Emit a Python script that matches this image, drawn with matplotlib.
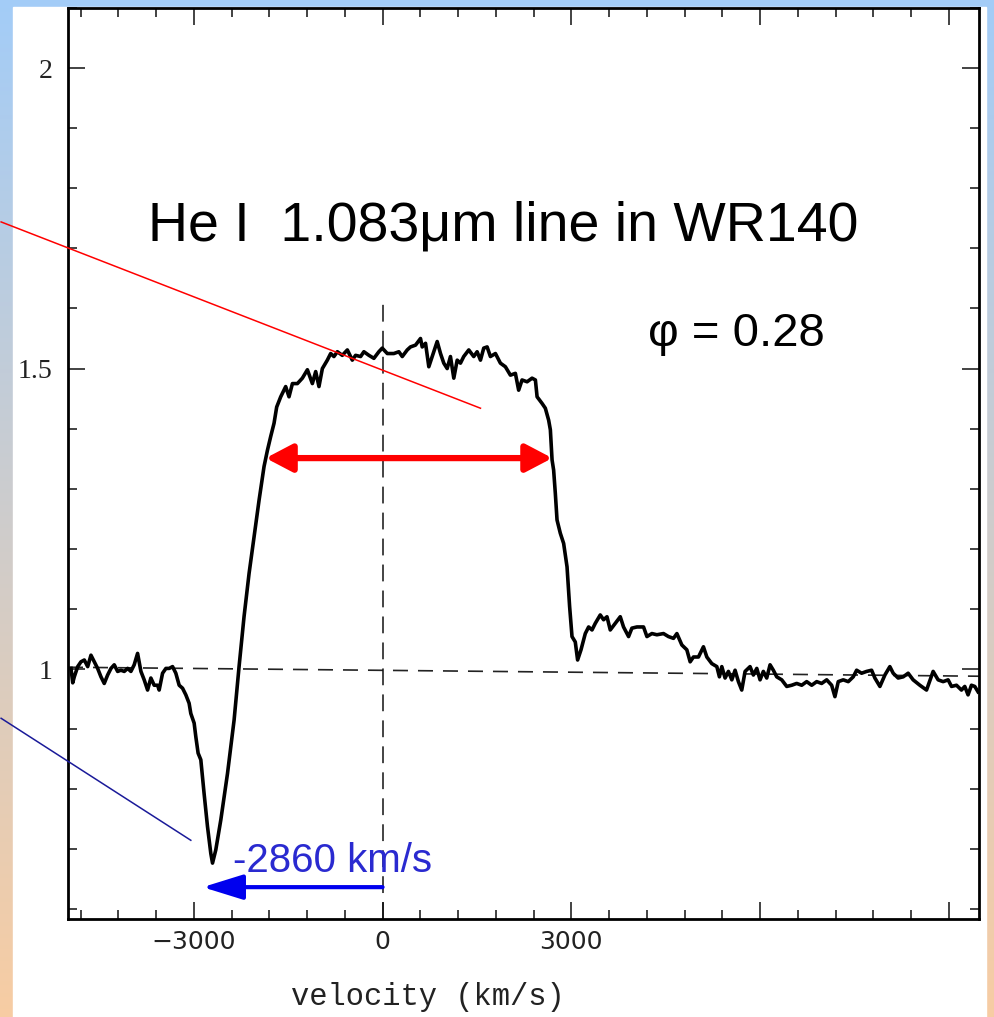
import numpy as np
import matplotlib.pyplot as plt
from matplotlib.ticker import MultipleLocator

# He I 1.083 um profile of WR140, velocity (km/s) vs normalised flux
velocity = [-4952, -4925, -4900, -4846, -4794, -4741, -4687, -4635, -4582, -4529,
            -4476, -4424, -4370, -4317, -4265, -4211, -4159, -4106, -4052, -4000,
            -3948, -3894, -3841, -3789, -3735, -3683, -3630, -3576, -3551, -3497,
            -3444, -3392, -3338, -3286, -3233, -3179, -3127, -3075, -3048, -2995,
            -2968, -2932, -2889, -2837, -2783, -2730, -2703, -2651, -2571, -2465,
            -2360, -2281, -2202, -2122, -2043, -1963, -1884, -1830, -1778, -1725,
            -1683, -1619, -1540, -1487, -1433, -1354, -1275, -1195, -1116, -1063,
            -1011, -957, -878, -825, -773, -719, -640, -560, -481, -429,
            -349, -297, -217, -138, -59, -5, 75, 179, 259, 313,
            392, 444, 524, 603, 630, 683, 735, 789, 868, 921,
            973, 1027, 1079, 1132, 1186, 1238, 1290, 1370, 1449, 1503,
            1556, 1608, 1662, 1714, 1794, 1873, 1952, 2032, 2111, 2163,
            2217, 2297, 2376, 2429, 2456, 2535, 2587, 2640, 2667, 2694,
            2719, 2746, 2773, 2825, 2878, 2932, 2973, 3011, 3063, 3100,
            3154, 3222, 3275, 3329, 3381, 3460, 3513, 3567, 3619, 3698,
            3778, 3830, 3910, 3963, 4043, 4148, 4202, 4281, 4360, 4465,
            4544, 4624, 4678, 4757, 4836, 4889, 4941, 5021, 5100, 5154,
            5233, 5313, 5354, 5392, 5444, 5497, 5551, 5603, 5656, 5709,
            5762, 5841, 5894, 5948, 6000, 6052, 6106, 6159, 6211, 6265,
            6344, 6424, 6503, 6582, 6662, 6741, 6821, 6900, 6979, 7059,
            7138, 7190, 7243, 7322, 7402, 7481, 7535, 7614, 7694, 7773,
            7825, 7905, 7984, 8063, 8116, 8195, 8275, 8354, 8433, 8540,
            8646, 8751, 8830, 8910, 8989, 9043, 9122, 9201, 9254, 9306,
            9360, 9413, 9465]
flux = [1.001, 0.977, 0.987, 1.004, 1.012, 1.015, 1.004, 1.023, 1.012, 1.001,
        0.987, 0.976, 0.990, 1.001, 1.007, 0.996, 0.998, 0.996, 1.001, 0.996,
        1.007, 1.026, 0.996, 0.982, 0.965, 0.985, 0.973, 0.973, 0.965, 0.993,
        1.001, 1.001, 1.004, 0.993, 0.973, 0.968, 0.957, 0.943, 0.926, 0.910,
        0.887, 0.860, 0.849, 0.793, 0.738, 0.693, 0.677, 0.699, 0.749, 0.826,
        0.915, 1.004, 1.087, 1.159, 1.220, 1.281, 1.337, 1.364, 1.387, 1.409,
        1.436, 1.453, 1.470, 1.453, 1.475, 1.475, 1.484, 1.498, 1.475, 1.495,
        1.470, 1.500, 1.514, 1.525, 1.520, 1.528, 1.522, 1.531, 1.514, 1.522,
        1.520, 1.528, 1.522, 1.517, 1.528, 1.534, 1.525, 1.525, 1.528, 1.520,
        1.531, 1.536, 1.539, 1.550, 1.536, 1.542, 1.503, 1.520, 1.545, 1.525,
        1.509, 1.500, 1.520, 1.484, 1.514, 1.509, 1.520, 1.531, 1.520, 1.528,
        1.514, 1.534, 1.536, 1.520, 1.525, 1.509, 1.503, 1.489, 1.492, 1.464,
        1.481, 1.478, 1.484, 1.481, 1.453, 1.442, 1.434, 1.414, 1.398, 1.348,
        1.331, 1.292, 1.248, 1.226, 1.209, 1.170, 1.104, 1.054, 1.045, 1.015,
        1.032, 1.059, 1.070, 1.065, 1.076, 1.090, 1.082, 1.087, 1.065, 1.076,
        1.087, 1.070, 1.054, 1.068, 1.070, 1.070, 1.054, 1.059, 1.057, 1.059,
        1.054, 1.051, 1.059, 1.040, 1.032, 1.012, 1.020, 1.020, 1.037, 1.020,
        1.009, 1.004, 0.987, 1.004, 0.985, 0.996, 0.982, 0.998, 0.979, 0.965,
        0.996, 1.004, 0.990, 1.001, 0.982, 0.996, 0.985, 1.007, 0.998, 0.987,
        0.982, 0.971, 0.973, 0.976, 0.973, 0.979, 0.973, 0.979, 0.976, 0.982,
        0.973, 0.954, 0.979, 0.982, 0.979, 0.987, 0.998, 0.993, 0.996, 0.998,
        0.985, 0.971, 0.990, 1.004, 0.993, 0.985, 0.987, 0.993, 0.982, 0.973,
        0.965, 0.996, 0.982, 0.979, 0.982, 0.971, 0.973, 0.965, 0.971, 0.957,
        0.973, 0.971, 0.962]

# guide lines
continuum_v = [-5000, 9480]
continuum_f = [1.003, 0.988]
zero_v = 0
zero_top = 1.617
absorption_v = -2860          # blue-shifted absorption edge
width_v = [-1857, 2698]       # full width of the emission plateau
width_f = 1.351
arrow_f = 0.637
red_line_v = [-6063, 1556]
red_line_f = [1.744, 1.434]
blue_line_v = [-6063, -3048]
blue_line_f = [0.918, 0.715]

xticks = [-3000, 0, 3000, 6000, 9000]
xticklabels = ['\u22123000', '0', '3000', '', '']
yticks = [1.0, 1.5, 2.0]
yticklabels = ['1', '1.5', '2']

W, H = 995, 1017
fig = plt.figure(figsize=(W / 100, H / 100), dpi=100)

# slide background: blue-to-peach gradient with a white sheet on top
bg = fig.add_axes([0, 0, 1, 1])
top = np.array([0.64, 0.80, 0.97])
bottom = np.array([0.97, 0.80, 0.64])
t = np.linspace(0, 1, 256)[:, None]
grad = (1 - t) * top + t * bottom
bg.imshow(grad[:, None, :], aspect='auto', extent=[0, 1, 0, 1])
bg.add_patch(plt.Rectangle((13 / W, 0), (986 - 13) / W, (H - 7) / H,
                           transform=bg.transAxes, color='white'))
bg.set_xlim(0, 1)
bg.set_ylim(0, 1)
bg.axis('off')

ax = fig.add_axes([68 / W, (H - 919) / H, (979 - 68) / W, (919 - 8) / H])
ax.set_xlim(-5000, 9480)
ax.set_ylim(0.584, 2.1)

ax.plot(velocity, flux, color='black', lw=2.6, zorder=3)

# reference lines
ax.plot(continuum_v, continuum_f, color='#222222', lw=1.2, dashes=(9, 6), zorder=2)
ax.plot([zero_v, zero_v], [0.584, zero_top], color='#111111', lw=1.1,
        dashes=(11, 6), zorder=2)

# width of the flat-topped emission
ax.annotate('', xy=(width_v[1], width_f), xytext=(width_v[0], width_f),
            arrowprops=dict(arrowstyle='<|-|>,head_length=0.8,head_width=0.42',
                            mutation_scale=20, color='#ff0000', lw=4.5,
                            shrinkA=0, shrinkB=0), zorder=4)

# absorption velocity
ax.annotate('', xy=(absorption_v, arrow_f), xytext=(zero_v, arrow_f),
            arrowprops=dict(arrowstyle='-|>,head_length=1.45,head_width=0.45',
                            mutation_scale=17, color='#0000ee', lw=3,
                            shrinkA=0, shrinkB=0), zorder=4)
ax.text(0.181, 0.0516, '-2860 km/s', transform=ax.transAxes, color='#2a2ad0',
        fontsize=29, family=['Liberation Sans', 'DejaVu Sans'], va='baseline')

# pointer lines running off the left edge
ax.plot(red_line_v, red_line_f, color='#ff0000', lw=1.1, clip_on=False, zorder=5)
ax.plot(blue_line_v, blue_line_f, color='#1a1a99', lw=1.1, clip_on=False, zorder=5)

ax.text(0.0878, 0.745, 'He I  1.083\u03bcm line in WR140', transform=ax.transAxes,
        fontsize=40, family=['Liberation Sans', 'DejaVu Sans'], va='baseline')
ax.text(0.637, 0.629, '\u03c6 = 0.28', transform=ax.transAxes,
        fontsize=34, family=['Liberation Sans', 'DejaVu Sans'], va='baseline')

# axes frame and ticks
for s in ax.spines.values():
    s.set_linewidth(2)
ax.set_xticks(xticks)
ax.set_xticklabels(xticklabels, family='DejaVu Sans', fontsize=18)
ax.set_yticks(yticks)
ax.set_yticklabels(yticklabels, family='Liberation Serif', fontsize=20)
ax.xaxis.set_minor_locator(MultipleLocator(600))
ax.yaxis.set_minor_locator(MultipleLocator(0.1))
ax.tick_params(which='both', direction='in', top=True, right=True, width=1.2,
               colors='#222222')
ax.tick_params(which='major', length=12.5)
ax.tick_params(which='minor', length=6.5)
ax.tick_params(axis='x', pad=8)
ax.tick_params(axis='y', pad=11)

fig.text(428 / W, (H - 1005) / H, 'velocity (km/s)', family='Liberation Mono',
         fontsize=22, ha='center', va='baseline', color='#222222')

fig.savefig('out.png', dpi=100)
